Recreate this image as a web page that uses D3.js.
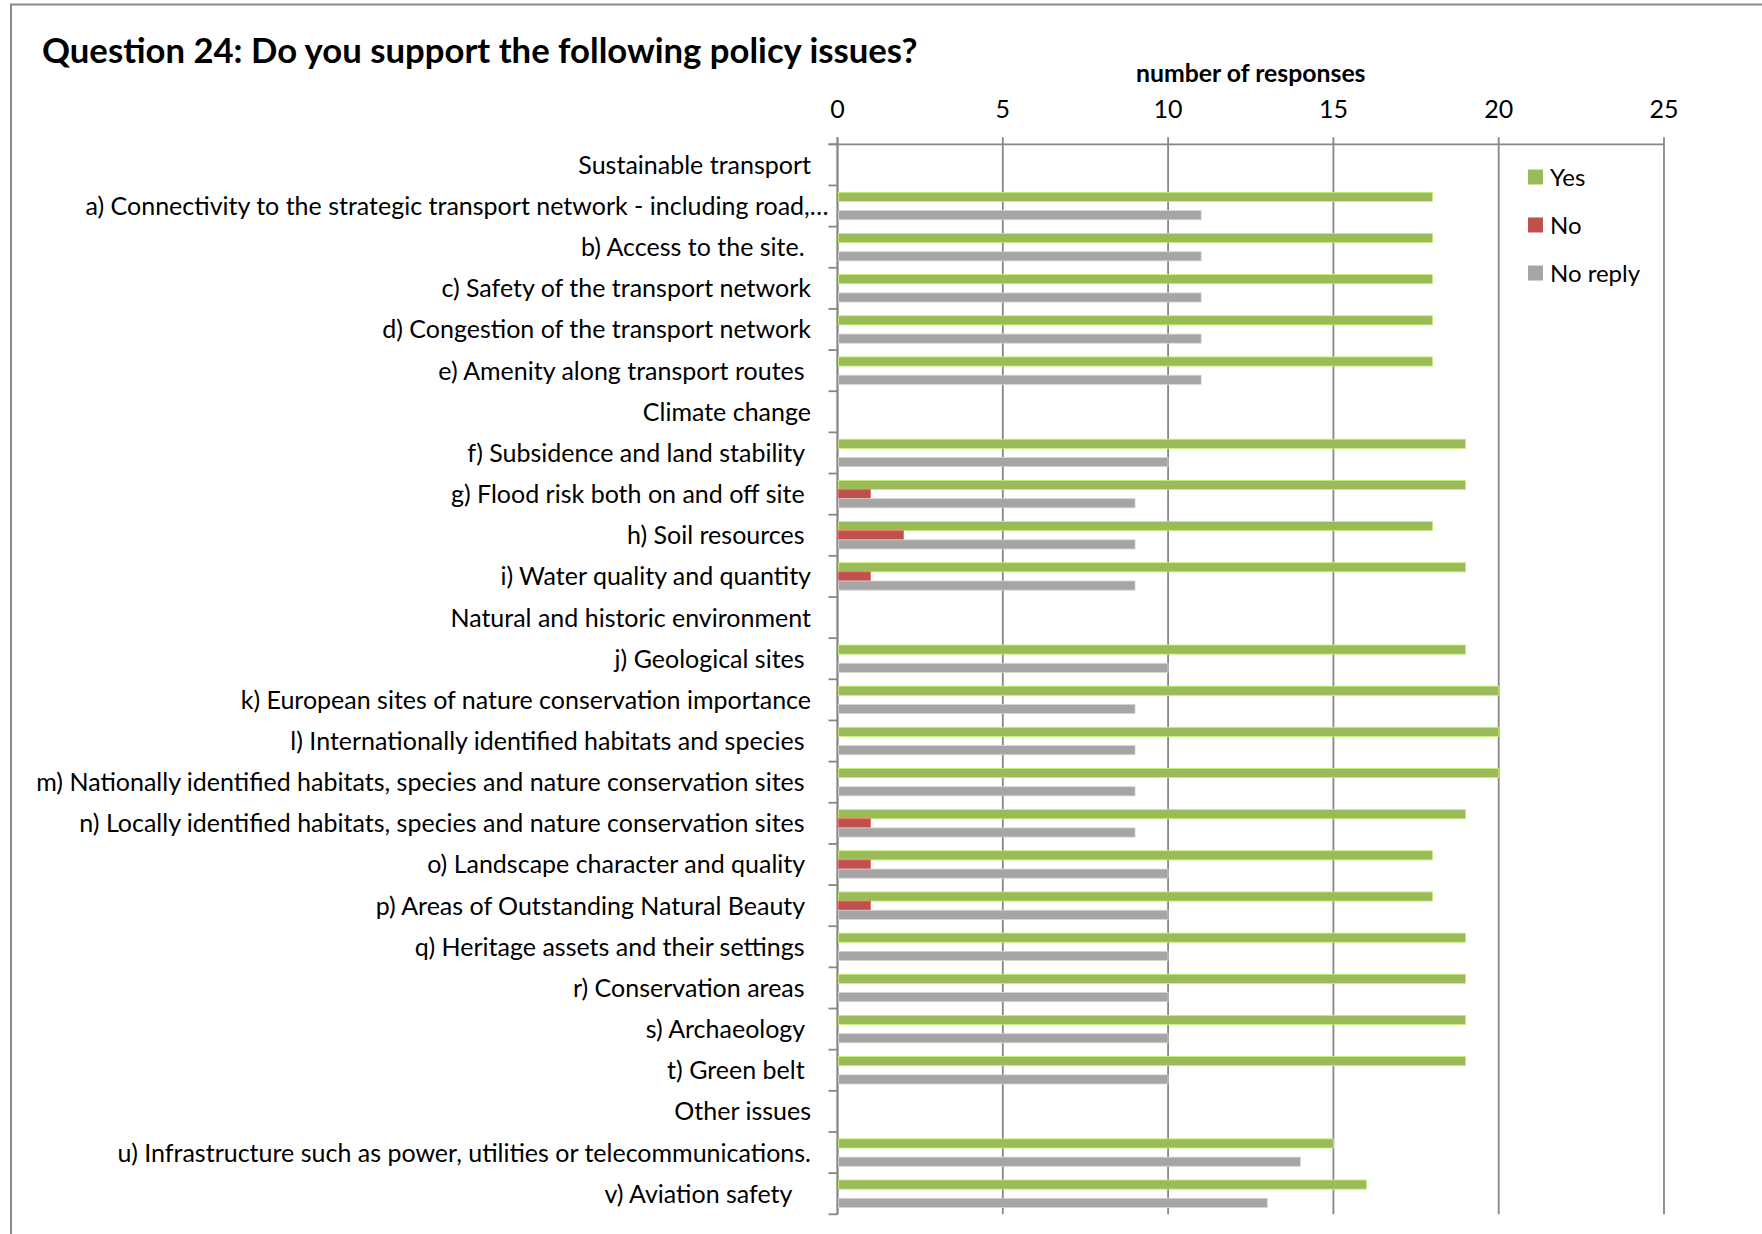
<!DOCTYPE html>
<html>
<head>
<meta charset="utf-8">
<script src="https://cdn.jsdelivr.net/npm/d3@7"></script>
<style>
  html, body { margin: 0; padding: 0; background: #fff; }
  svg { display: block; }
  text { font-family: Lato, "Open Sans", sans-serif; fill: #000; }
</style>
</head>
<body>
<svg id="chart" width="1762" height="1234"></svg>
<script>
// Question 24 responses, one row per policy issue (group headings carry no bars)
const categories = [
  "Sustainable transport",
  "a) Connectivity to the strategic transport network - including road,…",
  "b) Access to the site. ",
  "c) Safety of the transport network",
  "d) Congestion of the transport network",
  "e) Amenity along transport routes ",
  "Climate change",
  "f) Subsidence and land stability ",
  "g) Flood risk both on and off site ",
  "h) Soil resources ",
  "i) Water quality and quantity",
  "Natural and historic environment",
  "j) Geological sites ",
  "k) European sites of nature conservation importance",
  "l) Internationally identified habitats and species ",
  "m) Nationally identified habitats, species and nature conservation sites ",
  "n) Locally identified habitats, species and nature conservation sites ",
  "o) Landscape character and quality ",
  "p) Areas of Outstanding Natural Beauty ",
  "q) Heritage assets and their settings ",
  "r) Conservation areas ",
  "s) Archaeology ",
  "t) Green belt ",
  "Other issues",
  "u) Infrastructure such as power, utilities or telecommunications.",
  "v) Aviation safety   "
];

const seriesNames = ["Yes", "No", "No reply"];

const yesValues     = [null, 18, 18, 18, 18, 18, null, 19, 19, 18, 19, null, 19, 20, 20, 20, 19, 18, 18, 19, 19, 19, 19, null, 15, 16];
const noValues      = [null,  0,  0,  0,  0,  0, null,  0,  1,  2,  1, null,  0,  0,  0,  0,  1,  1,  1,  0,  0,  0,  0, null,  0,  0];
const noReplyValues = [null, 11, 11, 11, 11, 11, null, 10,  9,  9,  9, null, 10,  9,  9,  9,  9, 10, 10, 10, 10, 10, 10, null, 14, 13];

const xTicks = [0, 5, 10, 15, 20, 25];

const titleText = "Question 24: Do you support the following policy issues?";
const axisTitleText = "number of responses";

const seriesColors = ["#9BBB59", "#C0504D", "#A5A5A5"];
const seriesValues = [yesValues, noValues, noReplyValues];

// ---- layout ----
const plot = { left: 837.5, right: 1664, top: 144.3, bottom: 1214.3 };
const gridColor = "#878787";
const labelFont = 25;

const svg = d3.select("#chart");

// outer chart frame (left and top edges)
svg.append("path")
  .attr("d", `M11,1234 V4.5 H1762`)
  .attr("fill", "none")
  .attr("stroke", "#8a8a8a")
  .attr("stroke-width", 2);

// scales
const x = d3.scaleLinear().domain([0, 25]).range([plot.left, plot.right]);
const y = d3.scaleBand().domain(categories).range([plot.top, plot.bottom]).paddingInner(0).paddingOuter(0);
const ySeries = d3.scaleBand().domain(seriesNames).range([0, y.bandwidth()]).paddingInner(0).paddingOuter(0.75);
const color = d3.scaleOrdinal().domain(seriesNames).range(seriesColors);

// title
svg.append("text")
  .attr("x", 42)
  .attr("y", 49)
  .attr("dominant-baseline", "central")
  .style("font-weight", "700")
  .style("font-size", "34.7px")
  .text(titleText);

// axis title
svg.append("text")
  .attr("x", (plot.left + plot.right) / 2)
  .attr("y", 72)
  .attr("text-anchor", "middle")
  .attr("dominant-baseline", "central")
  .style("font-weight", "700")
  .style("font-size", "24.8px")
  .text(axisTitleText);

// vertical gridlines (with the tick marks poking above the axis line)
svg.append("g")
  .selectAll("line")
  .data(xTicks)
  .join("line")
  .attr("x1", d => x(d)).attr("x2", d => x(d))
  .attr("y1", plot.top - 7).attr("y2", plot.bottom)
  .attr("stroke", gridColor)
  .attr("stroke-width", 1.8);

// top value axis line and labels
svg.append("line")
  .attr("x1", plot.left - 9).attr("x2", plot.right)
  .attr("y1", plot.top).attr("y2", plot.top)
  .attr("stroke", gridColor).attr("stroke-width", 1.8);

svg.append("g")
  .selectAll("text")
  .data(xTicks)
  .join("text")
  .attr("x", d => x(d))
  .attr("y", 108)
  .attr("text-anchor", "middle")
  .attr("dominant-baseline", "central")
  .style("font-size", labelFont + "px")
  .text(d => d3.format("d")(d));

// category axis: line and boundary ticks
const boundaries = categories.map(c => y(c)).concat([plot.bottom]);
svg.append("line")
  .attr("x1", plot.left).attr("x2", plot.left)
  .attr("y1", plot.top - 7).attr("y2", plot.bottom)
  .attr("stroke", gridColor).attr("stroke-width", 1.8);
svg.append("g")
  .selectAll("line")
  .data(boundaries)
  .join("line")
  .attr("x1", plot.left - 9).attr("x2", plot.left)
  .attr("y1", d => d).attr("y2", d => d)
  .attr("stroke", gridColor).attr("stroke-width", 1.8);

// category labels (truncated labels run right up to the tick marks)
svg.append("g")
  .selectAll("text")
  .data(categories)
  .join("text")
  .attr("x", d => d.endsWith("…") ? plot.left - 9 : 811)
  .attr("y", d => y(d) + y.bandwidth() / 2 - 1)
  .attr("text-anchor", "end")
  .attr("dominant-baseline", "central")
  .attr("xml:space", "preserve")
  .style("white-space", "pre")
  .style("font-size", labelFont + "px")
  .text(d => d);

// bars
const rows = [];
categories.forEach((c, i) => {
  seriesNames.forEach((s, j) => {
    const v = seriesValues[j][i];
    if (v) rows.push({ category: c, series: s, value: v });
  });
});

svg.append("g")
  .selectAll("rect")
  .data(rows)
  .join("rect")
  .attr("x", x(0) + 1)
  .attr("y", d => y(d.category) + ySeries(d.series))
  .attr("width", d => x(d.value) - x(0) - 1)
  .attr("height", ySeries.bandwidth())
  .attr("fill", d => color(d.series))
  .attr("stroke", d => d3.color(color(d.series)).brighter(0.7))
  .attr("stroke-width", 0.8);

// legend
const legend = svg.append("g")
  .selectAll("g")
  .data(seriesNames)
  .join("g")
  .attr("transform", (d, i) => `translate(1528, ${177 + i * 48})`);
legend.append("rect")
  .attr("x", 0).attr("y", -7.5)
  .attr("width", 15).attr("height", 15)
  .attr("fill", d => color(d));
legend.append("text")
  .attr("x", 22)
  .attr("y", -1)
  .attr("dominant-baseline", "central")
  .style("font-size", "24px")
  .text(d => d);
</script>
</body>
</html>
